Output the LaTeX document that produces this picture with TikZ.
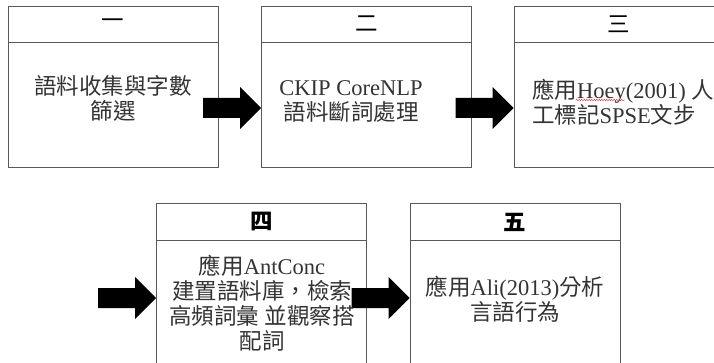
\documentclass[tikz,border=0pt]{standalone}
\usepackage{fontspec}
\setmainfont{Liberation Serif}
\newfontfamily\zhfont{Noto Sans CJK TC}
\newcommand\zh[1]{{\zhfont#1}}
\usetikzlibrary{decorations.pathmorphing}

\begin{document}
\begin{tikzpicture}[x=1pt, y=-1pt,
	box/.style={draw=black!65, line width=0.9pt, minimum width=210pt, minimum height=#1},
	box/.default=161pt,
	ln/.style={draw=black!65, line width=0.9pt},
	hd/.style={font=\zhfont\fontsize{22.5}{25}\selectfont, inner sep=0},
	hdb/.style={hd, font=\zhfont\bfseries\fontsize{22.5}{25}\selectfont},
	txt/.style={font=\fontsize{22.5}{25}\selectfont, text=black!80, inner sep=0, align=center},
	blk/.pic={\fill (-58,-10) -- (-21,-10) -- (-21,-21) -- (0,0) -- (-21,21) -- (-21,10) -- (-58,10) -- cycle;}]
	\useasboundingbox (0,0) rectangle (714,363);
	\coordinate (top) at (0,42);
	\coordinate (bot) at (0,240);
	\coordinate (up) at (0,108);
	\coordinate (lo) at (0,298);

	\node[box] (b1) at (113,86.5) {};
	\node[box] (b2) at (366.5,86.5) {};
	\node[box] (b3) at (619,86.5) {};
	\node[box=172pt] (b4) at (261.5,289) {};
	\node[box=172pt] (b5) at (515,289.5) {};
	\foreach \b in {b1,b2,b3} \draw[ln] (\b.west |- top) -- (\b.east |- top);
	\foreach \b in {b4,b5} \draw[ln] (\b.west |- bot) -- (\b.east |- bot);

	\node[hd] (h1) at (113,24) {一};
	\node[hd] (h2) at (366.5,24) {二};
	\node[hd] (h3) at (619,24) {三};
	\node[hdb] (h4) at (261.5,221.5) {四};
	\node[hdb] (h5) at (515,222) {五};

	\pic at (b2.west |- up) {blk};
	\pic at (b3.west |- up) {blk};
	\pic at (b4.west |- lo) {blk};
	\pic at (b5.west |- lo) {blk};

	\node[txt] (t1) at (113,98.5) {\zh{語料收集與字數}\\\zh{篩選}};
	\node[txt] (t2) at (351,101) {CKIP CoreNLP\\\zh{語料斷詞處理}};
	\node[txt, anchor=west, align=left] (t3) at (532,102) {\zh{應用}Hoey(2001) \zh{人}\\\zh{工標記}SPSE\zh{文步}};
	\node[txt] (t4) at (262,303.5) {\zh{應用}AntConc\\\zh{建置語料庫，檢索}\\\zh{高頻詞彙 並觀察搭}\\\zh{配詞}};
	\node[txt] (t5) at (515,299.5) {\zh{應用}Ali(2013)\zh{分析}\\\zh{言語行為}};
	\draw[red, line width=0.4pt, decorate, decoration={snake, amplitude=0.6pt, segment length=2.5pt}] (576,100) -- (625,100);

\end{tikzpicture}
\end{document}
